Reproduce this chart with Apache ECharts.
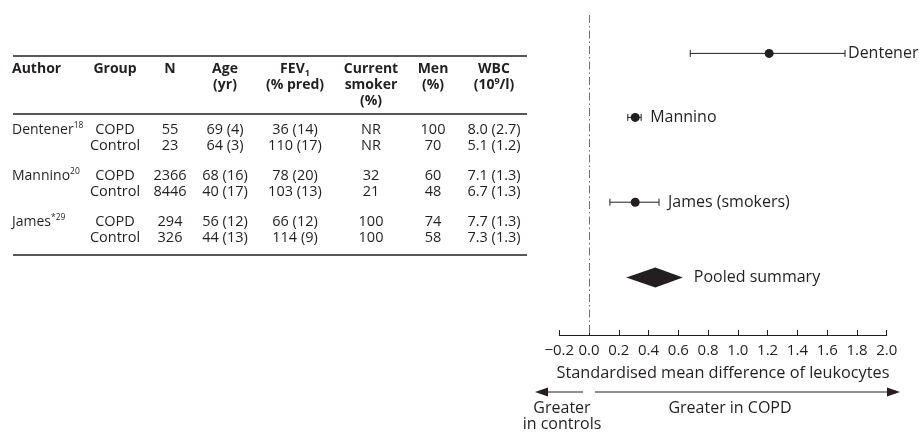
<!DOCTYPE html>
<html>
<head>
<meta charset="utf-8">
<script src="https://cdn.jsdelivr.net/npm/echarts@6/dist/echarts.min.js"></script>
<style>
html,body{margin:0;padding:0;background:#fff;}
#c{width:919px;height:432px;}
</style>
</head>
<body>
<div id="c"></div>
<script>
// ---------- Table data ----------
const tableAuthors = ['Dentener', 'Mannino', 'James*'];
const tableRefs = ['18', '20', '29'];
const tableGroups = ['COPD', 'Control'];
const tableN = [['55', '23'], ['2366', '8446'], ['294', '326']];
const tableAge = [['69 (4)', '64 (3)'], ['68 (16)', '40 (17)'], ['56 (12)', '44 (13)']];
const tableFEV1 = [['36 (14)', '110 (17)'], ['78 (20)', '103 (13)'], ['66 (12)', '114 (9)']];
const tableSmoker = [['NR', 'NR'], ['32', '21'], ['100', '100']];
const tableMen = [['100', '70'], ['60', '48'], ['74', '58']];
const tableWBC = [['8.0 (2.7)', '5.1 (1.2)'], ['7.1 (1.3)', '6.7 (1.3)'], ['7.7 (1.3)', '7.3 (1.3)']];

// ---------- Forest plot data ----------
const studyNames = ['Dentener', 'Mannino', 'James (smokers)'];
const studySMD = [1.21, 0.31, 0.31];
const studyLow = [0.68, 0.26, 0.14];
const studyHigh = [1.72, 0.35, 0.47];
const pooledName = 'Pooled summary';
const pooledSMD = 0.445;
const pooledLow = 0.25;
const pooledHigh = 0.63;
const xTicks = [-0.2, 0.0, 0.2, 0.4, 0.6, 0.8, 1.0, 1.2, 1.4, 1.6, 1.8, 2.0];
const rowPos = [1.2, 3.2, 5.85, 8.2]; // vertical slots (axis units)

const FONT = '"Open Sans", "Noto Sans", sans-serif';
const INK = '#231f20';
const TS = 14.5; // table font size
const PS = 16;   // plot font size

const chart = echarts.init(document.getElementById('c'), null, {renderer: 'canvas'});

// ---------- Table as graphic text ----------
const colX = {author: 12, group: 115, n: 170, age: 225, fev: 295, smoker: 371, men: 433, wbc: 494};
const graphics = [];
function txt(x, y, text, opts) {
  opts = opts || {};
  graphics.push({
    type: 'text', silent: true,
    style: Object.assign({
      x: x, y: y, text: text, fill: INK,
      font: (opts.bold ? 'bold ' : '') + (opts.size || TS) + 'px ' + FONT,
      align: opts.align || 'center', verticalAlign: 'middle'
    }, opts.rich ? {rich: opts.rich} : {})
  });
}
function hline(x1, x2, y, w) {
  graphics.push({type: 'line', silent: true, shape: {x1: x1, y1: y, x2: x2, y2: y},
    style: {stroke: INK, lineWidth: w || 1.3}});
}
const hdrRich = {
  b: {fontFamily: FONT, fontWeight: 'bold', fontSize: 14, fill: INK, lineHeight: 17},
  sub: {fontFamily: FONT, fontWeight: 'bold', fontSize: 9, fill: INK, verticalAlign: 'bottom', lineHeight: 17, padding: [6, 0, 0, 0]},
  sup: {fontFamily: FONT, fontWeight: 'bold', fontSize: 9, fill: INK, verticalAlign: 'top', lineHeight: 17, padding: [0, 0, 6, 0]}
};
const H1 = 69, H2 = 85, H3 = 101;
hline(13, 527, 56);
txt(colX.author, H1, 'Author', {bold: true, align: 'left', size: 14});
txt(colX.group, H1, 'Group', {bold: true, size: 14});
txt(colX.n, H1, 'N', {bold: true, size: 14});
txt(colX.age, H1, 'Age', {bold: true, size: 14});
txt(colX.age, H2, '(yr)', {bold: true, size: 14});
txt(colX.fev, H1, '{b|FEV}{sub|1}', {rich: hdrRich});
txt(colX.fev, H2, '(% pred)', {bold: true, size: 14});
txt(colX.smoker, H1, 'Current', {bold: true, size: 14});
txt(colX.smoker, H2, 'smoker', {bold: true, size: 14});
txt(colX.smoker, H3, '(%)', {bold: true, size: 14});
txt(colX.men, H1, 'Men', {bold: true, size: 14});
txt(colX.men, H2, '(%)', {bold: true, size: 14});
txt(colX.wbc, H1, 'WBC', {bold: true, size: 14});
txt(colX.wbc, H2, '{b|(10}{sup|9}{b|/l)}', {rich: hdrRich});
hline(13, 527, 114);

const bodyRich = {
  n: {fontFamily: FONT, fontSize: 14, fill: INK, lineHeight: 17},
  s: {fontFamily: FONT, fontSize: 8.5, fill: INK, verticalAlign: 'top', lineHeight: 17, padding: [0, 0, 6, 0]}
};
const rowStarts = [130, 176, 222];
tableAuthors.forEach(function (a, i) {
  const y0 = rowStarts[i];
  txt(colX.author, y0, '{n|' + a.replace('*', '') + '}{s|' + (a.indexOf('*') >= 0 ? '*' : '') + tableRefs[i] + '}', {align: 'left', rich: bodyRich});
  [0, 1].forEach(function (j) {
    const y = y0 + j * 15.5;
    txt(colX.group, y, tableGroups[j]);
    txt(colX.n, y, tableN[i][j]);
    txt(colX.age, y, tableAge[i][j]);
    txt(colX.fev, y, tableFEV1[i][j]);
    txt(colX.smoker, y, tableSmoker[i][j]);
    txt(colX.men, y, tableMen[i][j]);
    txt(colX.wbc, y, tableWBC[i][j]);
  });
});
hline(13, 527, 255);

// ---------- Direction arrows & labels ----------
const AY = 392;
graphics.push({type: 'line', silent: true, shape: {x1: 546, y1: AY, x2: 583, y2: AY}, style: {stroke: INK, lineWidth: 1}});
graphics.push({type: 'polygon', silent: true, shape: {points: [[535, AY], [548, AY - 4.5], [548, AY + 4.5]]}, style: {fill: INK}});
graphics.push({type: 'line', silent: true, shape: {x1: 595, y1: AY, x2: 888, y2: AY}, style: {stroke: INK, lineWidth: 1}});
graphics.push({type: 'polygon', silent: true, shape: {points: [[900, AY], [887, AY - 4.5], [887, AY + 4.5]]}, style: {fill: INK}});
txt(730, 408, 'Greater in COPD', {size: PS});
txt(562, 408, 'Greater', {size: PS});
txt(562, 424.5, 'in controls', {size: PS});

// ---------- Series data ----------
const studyData = studyNames.map(function (n, i) {
  return [studySMD[i], rowPos[i], studyLow[i], studyHigh[i], n];
});
const pooledData = [[pooledSMD, rowPos[3], pooledLow, pooledHigh, pooledName]];

function renderStudy(params, api) {
  const mid = api.coord([api.value(0), api.value(1)]);
  const lo = api.coord([api.value(2), api.value(1)]);
  const hi = api.coord([api.value(3), api.value(1)]);
  const name = studyNames[params.dataIndex];
  const cap = 3.5;
  return {
    type: 'group',
    children: [
      {type: 'line', shape: {x1: lo[0], y1: lo[1], x2: hi[0], y2: hi[1]}, style: {stroke: INK, lineWidth: 1}},
      {type: 'line', shape: {x1: lo[0], y1: lo[1] - cap, x2: lo[0], y2: lo[1] + cap}, style: {stroke: INK, lineWidth: 1}},
      {type: 'line', shape: {x1: hi[0], y1: hi[1] - cap, x2: hi[0], y2: hi[1] + cap}, style: {stroke: INK, lineWidth: 1}},
      {type: 'circle', shape: {cx: mid[0], cy: mid[1], r: 4.5}, style: {fill: INK}},
      {type: 'text', style: {x: hi[0] + (params.dataIndex === 0 ? 3 : 9), y: hi[1], text: name, fill: INK,
        font: PS + 'px ' + FONT, align: 'left', verticalAlign: 'middle'}}
    ]
  };
}
function renderPooled(params, api) {
  const mid = api.coord([api.value(0), api.value(1)]);
  const lo = api.coord([api.value(2), api.value(1)]);
  const hi = api.coord([api.value(3), api.value(1)]);
  const h = 10;
  return {
    type: 'group',
    children: [
      {type: 'polygon', shape: {points: [[lo[0], lo[1]], [mid[0], mid[1] - h], [hi[0], hi[1]], [mid[0], mid[1] + h]]}, style: {fill: INK}},
      {type: 'text', style: {x: hi[0] + 11, y: hi[1], text: pooledName, fill: INK,
        font: PS + 'px ' + FONT, align: 'left', verticalAlign: 'middle'}}
    ]
  };
}

chart.setOption({
  animation: false,
  backgroundColor: '#fff',
  textStyle: {fontFamily: FONT},
  grid: {left: 559.3, right: 32.3, top: 15, bottom: 97, containLabel: false},
  xAxis: {
    type: 'value', position: 'bottom', min: xTicks[0], max: xTicks[xTicks.length - 1], interval: 0.2,
    axisLine: {show: true, onZero: false, lineStyle: {color: INK, width: 1}},
    axisTick: {show: true, inside: true, length: 5, lineStyle: {color: INK}},
    splitLine: {show: false},
    axisLabel: {color: INK, fontSize: 15, fontFamily: FONT, margin: 8,
      formatter: function (v) { const s = Math.abs(v).toFixed(1); return v < -1e-9 ? '\u2212' + s : s; }},
    name: 'Standardised mean difference of leukocytes',
    nameLocation: 'middle', nameGap: 30,
    nameTextStyle: {color: INK, fontSize: 16.3, fontFamily: FONT}
  },
  yAxis: {type: 'value', min: 0, max: 10, inverse: true, show: false},
  series: [
    {
      type: 'custom', name: 'studies', renderItem: renderStudy, data: studyData,
      encode: {x: 0, y: 1}, silent: true,
      markLine: {
        silent: true, symbol: ['none', 'none'], label: {show: false},
        lineStyle: {color: '#6f6f6f', width: 1, type: [8, 3, 1.5, 3]},
        data: [{xAxis: 0}]
      }
    },
    {type: 'custom', name: 'pooled', renderItem: renderPooled, data: pooledData, encode: {x: 0, y: 1}, silent: true}
  ],
  graphic: graphics
});
</script>
</body>
</html>
